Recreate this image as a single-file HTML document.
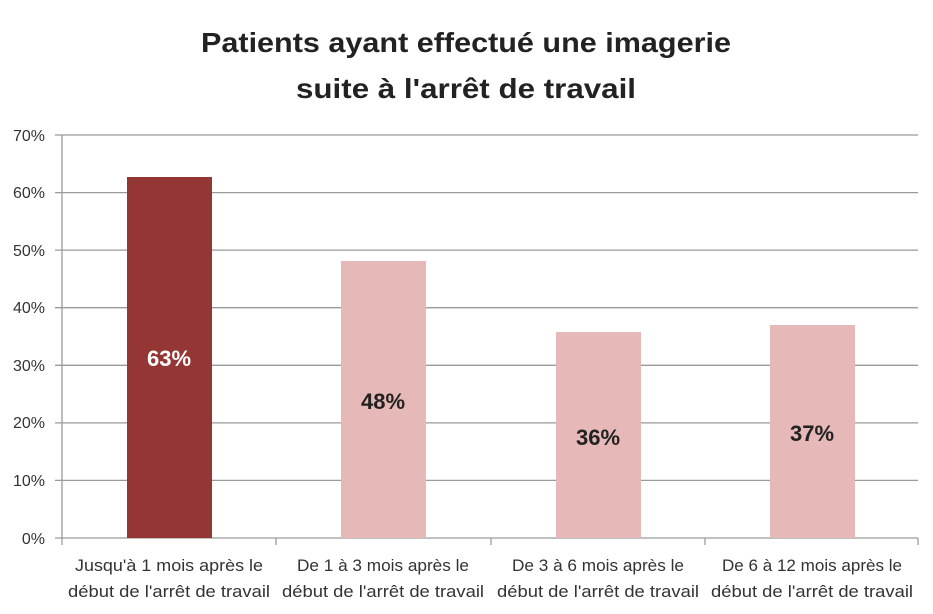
<!DOCTYPE html>
<html><head><meta charset="utf-8"><style>
body{margin:0;background:#fff;}
svg{display:block;font-family:"Liberation Sans",sans-serif;}
</style></head><body>
<svg width="933" height="614" viewBox="0 0 933 614">
<rect width="933" height="614" fill="#fff"/>
<text x="466" y="52" text-anchor="middle" font-size="28" font-weight="bold" fill="#222" textLength="530" lengthAdjust="spacingAndGlyphs">Patients ayant effectué une imagerie</text>
<text x="466" y="98" text-anchor="middle" font-size="28" font-weight="bold" fill="#222" textLength="340" lengthAdjust="spacingAndGlyphs">suite à l'arrêt de travail</text>
<g stroke="#9a9a9a" stroke-width="1.3">
<line x1="55" y1="135" x2="918" y2="135"/>
<line x1="55" y1="192.6" x2="918" y2="192.6"/>
<line x1="55" y1="250.1" x2="918" y2="250.1"/>
<line x1="55" y1="307.7" x2="918" y2="307.7"/>
<line x1="55" y1="365.3" x2="918" y2="365.3"/>
<line x1="55" y1="422.9" x2="918" y2="422.9"/>
<line x1="55" y1="480.4" x2="918" y2="480.4"/>
<line x1="55" y1="538" x2="918" y2="538"/>
<line x1="62" y1="135" x2="62" y2="545"/>
<line x1="276" y1="538" x2="276" y2="545"/>
<line x1="491" y1="538" x2="491" y2="545"/>
<line x1="705" y1="538" x2="705" y2="545"/>
<line x1="918" y1="538" x2="918" y2="545"/>
</g>
<g font-size="16" fill="#333" text-anchor="end">
<text x="45" y="141">70%</text><text x="45" y="198">60%</text><text x="45" y="256">50%</text>
<text x="45" y="313">40%</text><text x="45" y="371">30%</text><text x="45" y="428">20%</text>
<text x="45" y="486">10%</text><text x="45" y="544">0%</text>
</g>
<rect x="127" y="177" width="85" height="361" fill="#943634"/>
<rect x="341" y="261" width="85" height="277" fill="#e6b8b7"/>
<rect x="556" y="332" width="85" height="206" fill="#e6b8b7"/>
<rect x="770" y="325" width="85" height="213" fill="#e6b8b7"/>
<g font-size="22" font-weight="bold" text-anchor="middle">
<text x="169" y="366" fill="#fff">63%</text>
<text x="383" y="409" fill="#222">48%</text>
<text x="598" y="445" fill="#222">36%</text>
<text x="812" y="441" fill="#222">37%</text>
</g>
<g font-size="17" fill="#333" text-anchor="middle">
<text x="169" y="571" textLength="188" lengthAdjust="spacingAndGlyphs">Jusqu'à 1 mois après le</text>
<text x="169" y="597" textLength="202" lengthAdjust="spacingAndGlyphs">début de l'arrêt de travail</text>
<text x="383" y="571" textLength="172" lengthAdjust="spacingAndGlyphs">De 1 à 3 mois après le</text>
<text x="383" y="597" textLength="202" lengthAdjust="spacingAndGlyphs">début de l'arrêt de travail</text>
<text x="598" y="571" textLength="172" lengthAdjust="spacingAndGlyphs">De 3 à 6 mois après le</text>
<text x="598" y="597" textLength="202" lengthAdjust="spacingAndGlyphs">début de l'arrêt de travail</text>
<text x="812" y="571" textLength="180" lengthAdjust="spacingAndGlyphs">De 6 à 12 mois après le</text>
<text x="812" y="597" textLength="202" lengthAdjust="spacingAndGlyphs">début de l'arrêt de travail</text>
</g>
</svg>
</body></html>
